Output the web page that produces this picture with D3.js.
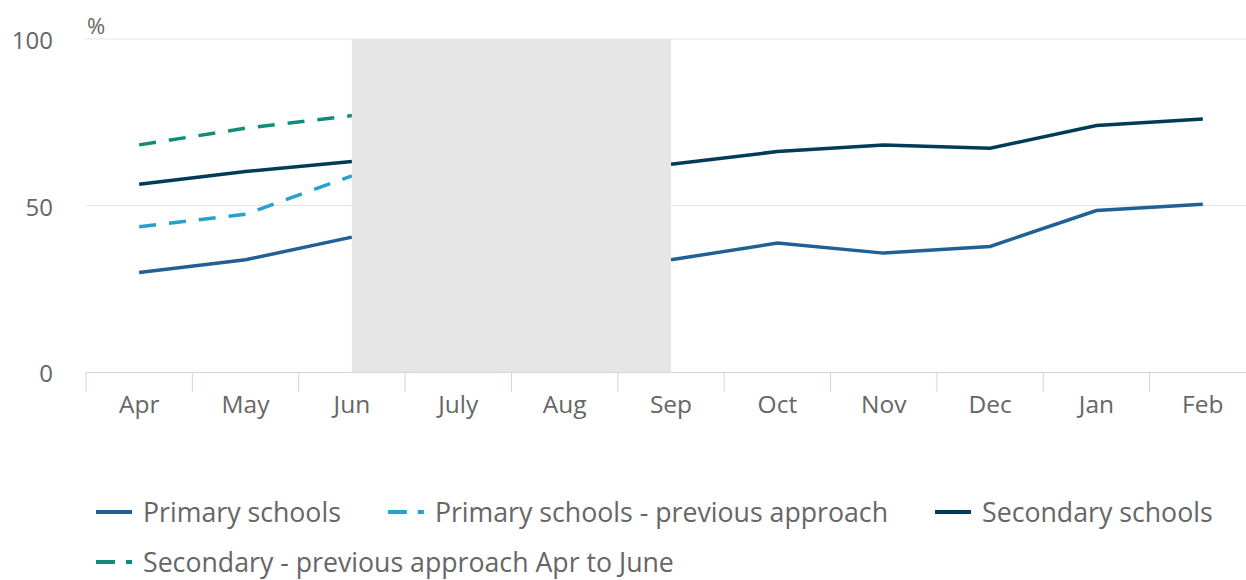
<!DOCTYPE html>
<html>
<head>
<meta charset="utf-8">
<script src="https://cdn.jsdelivr.net/npm/d3@7"></script>
<style>
  body { margin: 0; background: #fff; }
  text { font-family: "Open Sans", sans-serif; fill: #666; }
</style>
</head>
<body>
<svg id="chart" width="1246" height="580"></svg>
<script>
const months = ['Apr', 'May', 'Jun', 'July', 'Aug', 'Sep', 'Oct', 'Nov', 'Dec', 'Jan', 'Feb'];
// null = no data (summer break)
const primary = [29.9, 33.7, 40.5, null, null, 33.7, 38.7, 35.7, 37.7, 48.5, 50.4];
const primaryPrev = [43.6, 47.4, 58.9, null, null, null, null, null, null, null, null];
const secondary = [56.4, 60.2, 63.2, null, null, 62.4, 66.2, 68.2, 67.2, 74, 76];
const secondaryPrev = [68.2, 73.2, 77, null, null, null, null, null, null, null, null];
const yTicks = [0, 50, 100];
const shadeFrom = 'Jun', shadeTo = 'Sep';

const series = [
  { name: 'Primary schools', values: primary, color: '#206095', dash: null },
  { name: 'Primary schools - previous approach', values: primaryPrev, color: '#27a0cc', dash: '17,13' },
  { name: 'Secondary schools', values: secondary, color: '#003c57', dash: null },
  { name: 'Secondary - previous approach Apr to June', values: secondaryPrev, color: '#118c7b', dash: '17,13' }
];

const svg = d3.select('svg#chart');
const plotLeft = 86, plotRight = 1256, plotTop = 39, plotBottom = 372;

const xScale = d3.scaleBand().domain(months).range([plotLeft, plotRight]);
const xc = m => xScale(m) + xScale.bandwidth() / 2;
const yScale = d3.scaleLinear().domain([0, 100]).range([plotBottom, plotTop]);

// gridlines
svg.append('g')
  .selectAll('line')
  .data(yTicks.filter(t => t > 0))
  .enter()
  .append('line')
  .attr('x1', plotLeft).attr('x2', 1246)
  .attr('y1', d => yScale(d)).attr('y2', d => yScale(d))
  .attr('stroke', '#e6e6e6').attr('stroke-width', 1);

// y labels
svg.append('g')
  .selectAll('text')
  .data(yTicks)
  .enter()
  .append('text')
  .attr('x', 53)
  .attr('y', d => yScale(d) + 10)
  .attr('text-anchor', 'end')
  .style('font-size', '24px')
  .text(d => d);

svg.append('text')
  .attr('x', 87).attr('y', 34)
  .style('font-size', '22px')
  .text('%');

// lines
const line = d3.line()
  .defined(d => d.v != null)
  .x(d => xc(d.m))
  .y(d => yScale(d.v));

series.forEach(s => {
  svg.append('path')
    .datum(months.map((m, i) => ({ m: m, v: s.values[i] })))
    .attr('d', line)
    .attr('fill', 'none')
    .attr('stroke', s.color)
    .attr('stroke-width', 3.5)
    .attr('stroke-dasharray', s.dash);
});

// shaded period (drawn over the lines)
svg.append('rect')
  .attr('x', xc(shadeFrom))
  .attr('y', yScale(100))
  .attr('width', xc(shadeTo) - xc(shadeFrom))
  .attr('height', yScale(0) - yScale(100))
  .attr('fill', '#e6e6e6');

// x axis
const xAxis = svg.append('g').attr('transform', `translate(0, ${plotBottom})`);
xAxis.append('line')
  .attr('x1', plotLeft).attr('x2', 1246)
  .attr('y1', 0.5).attr('y2', 0.5)
  .attr('stroke', '#ccd6eb');
xAxis.selectAll('line.tick')
  .data(months)
  .enter()
  .append('line')
  .attr('class', 'tick')
  .attr('x1', d => xScale(d)).attr('x2', d => xScale(d))
  .attr('y1', 0).attr('y2', 20)
  .attr('stroke', '#ccd6eb');
xAxis.selectAll('text')
  .data(months)
  .enter()
  .append('text')
  .attr('x', d => xc(d))
  .attr('y', 41)
  .attr('text-anchor', 'middle')
  .style('font-size', '24.5px')
  .text(d => d);

// legend
const legend = svg.append('g');
let lx = 96, ly = 512;
series.forEach(s => {
  const g = legend.append('g');
  g.append('line')
    .attr('x1', 0).attr('x2', 36)
    .attr('y1', 0).attr('y2', 0)
    .attr('stroke', s.color)
    .attr('stroke-width', 4)
    .attr('stroke-dasharray', s.dash ? '19,11' : null);
  const t = g.append('text')
    .attr('x', 47).attr('y', 10)
    .style('font-size', '26.7px')
    .text(s.name);
  const w = 47 + t.node().getComputedTextLength();
  if (lx + w > 1240) { lx = 96; ly += 50; }
  g.attr('transform', `translate(${lx}, ${ly})`);
  lx += w + 47;
});
</script>
</body>
</html>
